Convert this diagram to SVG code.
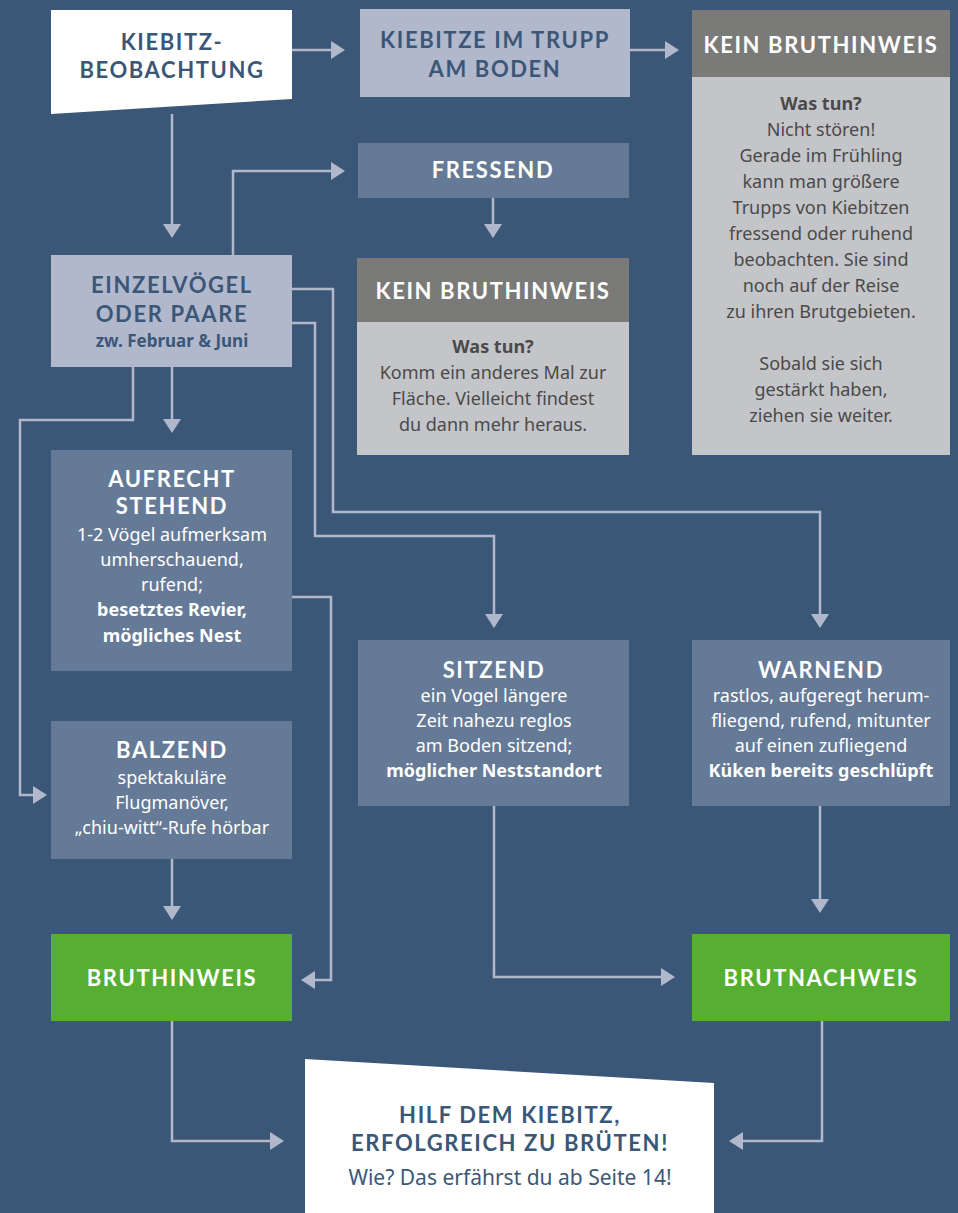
<svg xmlns="http://www.w3.org/2000/svg" width="958" height="1213" viewBox="0 0 958 1213">
<defs>
<style>
.t{font-family:Lato,"Liberation Sans",sans-serif;font-weight:700;font-size:22px;letter-spacing:1.6px;text-anchor:middle}
.b{font-family:"Noto Sans","Open Sans",sans-serif;font-size:18px;text-anchor:middle}
.bb{font-weight:700}
.dk{fill:#3b5778}
.w{fill:#ffffff}
.g{fill:#4a4a4a}
.c{fill:none;stroke:#b2b8cc;stroke-width:2.5}
.ah{fill:#b2b8cc}
</style>
</defs>
<rect width="958" height="1213" fill="#3b5778"/>
<g id="connectors">
<path class="c" d="M172 114V224"/><path class="ah" d="M163 224h18l-9 14z"/>
<path class="c" d="M292 50H332"/><path class="ah" d="M331 41v18l14-9z"/>
<path class="c" d="M630 50H666"/><path class="ah" d="M665 41v18l14-9z"/>
<path class="c" d="M233 255V171H332"/><path class="ah" d="M331 162v18l14-9z"/>
<path class="c" d="M493 198V224"/><path class="ah" d="M484 224h18l-9 14z"/>
<path class="c" d="M292 289H333V512H820V615"/><path class="ah" d="M811 614h18l-9 14z"/>
<path class="c" d="M292 323H315V536H494V615"/><path class="ah" d="M485 614h18l-9 14z"/>
<path class="c" d="M172 367V419"/><path class="ah" d="M163 419h18l-9 14z"/>
<path class="c" d="M133 367V420H20V795H34"/><path class="ah" d="M33 786v18l14-9z"/>
<path class="c" d="M292 597H331V980H314"/><path class="ah" d="M315 971v18l-14-9z"/>
<path class="c" d="M172 859V906"/><path class="ah" d="M163 906h18l-9 14z"/>
<path class="c" d="M494 806V977H662"/><path class="ah" d="M661 968v18l14-9z"/>
<path class="c" d="M820 806V899"/><path class="ah" d="M811 899h18l-9 14z"/>
<path class="c" d="M172 1021V1141H271"/><path class="ah" d="M270 1132v18l14-9z"/>
<path class="c" d="M822 1021V1141H742"/><path class="ah" d="M743 1132v18l-14-9z"/>
</g>
<g id="n-beobachtung">
<path d="M51 10H292V99L51 114Z" fill="#ffffff"/>
<text class="t dk" x="172" y="50">KIEBITZ-</text>
<text class="t dk" x="172" y="78">BEOBACHTUNG</text>
</g>
<g id="n-trupp">
<rect x="360" y="9" width="270" height="88" fill="#b2b8cc"/>
<text class="t dk" x="495" y="48">KIEBITZE IM TRUPP</text>
<text class="t dk" x="495" y="77">AM BODEN</text>
</g>
<g id="n-kein1">
<rect x="692" y="10" width="258" height="445" fill="#c4c5c8"/>
<rect x="692" y="10" width="258" height="67" fill="#7a7a78"/>
<text class="t w" x="821" y="53">KEIN BRUTHINWEIS</text>
<text class="b g bb" x="821" y="110">Was tun?</text>
<text class="b g" x="821" y="136">Nicht stören!</text>
<text class="b g" x="821" y="162">Gerade im Frühling</text>
<text class="b g" x="821" y="188">kann man größere</text>
<text class="b g" x="821" y="214">Trupps von Kiebitzen</text>
<text class="b g" x="821" y="240">fressend oder ruhend</text>
<text class="b g" x="821" y="266">beobachten. Sie sind</text>
<text class="b g" x="821" y="292">noch auf der Reise</text>
<text class="b g" x="821" y="318">zu ihren Brutgebieten.</text>
<text class="b g" x="821" y="370">Sobald sie sich</text>
<text class="b g" x="821" y="396">gestärkt haben,</text>
<text class="b g" x="821" y="422">ziehen sie weiter.</text>
</g>
<g id="n-fressend">
<rect x="358" y="143" width="271" height="55" fill="#657a96"/>
<text class="t w" x="493" y="178">FRESSEND</text>
</g>
<g id="n-kein2">
<rect x="357" y="258" width="272" height="197" fill="#c4c5c8"/>
<rect x="357" y="258" width="272" height="64" fill="#7a7a78"/>
<text class="t w" x="493" y="299">KEIN BRUTHINWEIS</text>
<text class="b g bb" x="493" y="353">Was tun?</text>
<text class="b g" x="493" y="379">Komm ein anderes Mal zur</text>
<text class="b g" x="493" y="405">Fläche. Vielleicht findest</text>
<text class="b g" x="493" y="431">du dann mehr heraus.</text>
</g>
<g id="n-einzel">
<rect x="51" y="255" width="241" height="112" fill="#b2b8cc"/>
<text class="t dk" x="172" y="293">EINZELVÖGEL</text>
<text class="t dk" x="172" y="322">ODER PAARE</text>
<text class="b dk bb" x="172" y="347" style="font-size:17px">zw. Februar &amp; Juni</text>
</g>
<g id="n-aufrecht">
<rect x="51" y="450" width="241" height="221" fill="#657a96"/>
<text class="t w" x="172" y="487">AUFRECHT</text>
<text class="t w" x="172" y="514">STEHEND</text>
<text class="b w" x="172" y="541">1-2 Vögel aufmerksam</text>
<text class="b w" x="172" y="566">umherschauend,</text>
<text class="b w" x="172" y="591">rufend;</text>
<text class="b w bb" x="172" y="616">besetztes Revier,</text>
<text class="b w bb" x="172" y="642">mögliches Nest</text>
</g>
<g id="n-balzend">
<rect x="51" y="721" width="241" height="138" fill="#657a96"/>
<text class="t w" x="172" y="758">BALZEND</text>
<text class="b w" x="172" y="784">spektakuläre</text>
<text class="b w" x="172" y="809">Flugmanöver,</text>
<text class="b w" x="172" y="834">„chiu-witt“-Rufe hörbar</text>
</g>
<g id="n-sitzend">
<rect x="358" y="640" width="271" height="166" fill="#657a96"/>
<text class="t w" x="494" y="678">SITZEND</text>
<text class="b w" x="494" y="702">ein Vogel längere</text>
<text class="b w" x="494" y="727">Zeit nahezu reglos</text>
<text class="b w" x="494" y="752">am Boden sitzend;</text>
<text class="b w bb" x="494" y="777">möglicher Neststandort</text>
</g>
<g id="n-warnend">
<rect x="692" y="640" width="258" height="166" fill="#657a96"/>
<text class="t w" x="821" y="678">WARNEND</text>
<text class="b w" x="821" y="702">rastlos, aufgeregt herum-</text>
<text class="b w" x="821" y="727">fliegend, rufend, mitunter</text>
<text class="b w" x="821" y="752">auf einen zufliegend</text>
<text class="b w bb" x="821" y="777">Küken bereits geschlüpft</text>
</g>
<g id="n-bruthinweis">
<rect x="51" y="934" width="241" height="87" fill="#56ae32"/>
<text class="t w" x="172" y="986">BRUTHINWEIS</text>
</g>
<g id="n-brutnachweis">
<rect x="692" y="934" width="258" height="87" fill="#56ae32"/>
<text class="t w" x="821" y="986">BRUTNACHWEIS</text>
</g>
<g id="n-hilf">
<path d="M305 1059L714 1083V1213H305Z" fill="#ffffff"/>
<text class="t dk" x="510" y="1123">HILF DEM KIEBITZ,</text>
<text class="t dk" x="510" y="1151">ERFOLGREICH ZU BRÜTEN!</text>
<text class="b dk" x="510" y="1185" style="font-size:21px">Wie? Das erfährst du ab Seite 14!</text>
</g>
</svg>
